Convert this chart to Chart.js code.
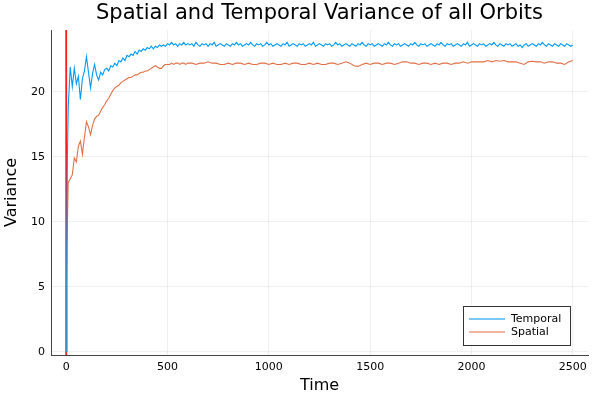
<!DOCTYPE html>
<html>
<head>
<meta charset="utf-8">
<script src="https://cdn.jsdelivr.net/npm/chart.js@4"></script>
<style>
html,body{margin:0;padding:0;background:#fff;}
#wrap{width:600px;height:400px;}
</style>
</head>
<body>
<div id="wrap"><canvas id="grafico"></canvas></div>
<script>

/* =============================
DADOS
============================= */

const temposTemporal=[
0,3,6,10,20,30,40,50,60,70,80,90,100,110,120,130,140,150,160,170,180,190,200,
210,220,230,240,250,260,270,280,290,300,310,320,330,340,350,360,370,380,390,400,
410,420,430,440,450,460,470,480,490,500,510,520,530,540,550,560,570,580,590,600,
610,620,630,640,650,660,670,680,690,700,710,720,730,740,750,760,770,780,790,800,
810,820,830,840,850,860,870,880,890,900,910,920,930,940,950,960,970,980,990,1000,
1010,1020,1030,1040,1050,1060,1070,1080,1090,1100,1110,1120,1130,1140,1150,1160,1170,1180,1190,1200,
1210,1220,1230,1240,1250,1260,1270,1280,1290,1300,1310,1320,1330,1340,1350,1360,1370,1380,1390,1400,
1410,1420,1430,1440,1450,1460,1470,1480,1490,1500,1510,1520,1530,1540,1550,1560,1570,1580,1590,1600,
1610,1620,1630,1640,1650,1660,1670,1680,1690,1700,1710,1720,1730,1740,1750,1760,1770,1780,1790,1800,
1810,1820,1830,1840,1850,1860,1870,1880,1890,1900,1910,1920,1930,1940,1950,1960,1970,1980,1990,2000,
2010,2020,2030,2040,2050,2060,2070,2080,2090,2100,2110,2120,2130,2140,2150,2160,2170,2180,2190,2200,
2210,2220,2230,2240,2250,2260,2270,2280,2290,2300,2310,2320,2330,2340,2350,2360,2370,2380,2390,2400,
2410,2420,2430,2440,2450,2460,2470,2480,2490,2500
];

const temporal=[
0,8,15,18.8,21.9,20.4,21.8,20.6,21.2,19.4,21.0,21.6,22.7,21.5,20.3,21.4,22.1,21.3,20.9,21.5,21.3,21.7,21.8,
21.6,22.0,21.9,22.2,22.0,22.4,22.3,22.6,22.4,22.8,22.7,22.9,22.8,23.1,22.9,23.2,23.1,23.3,23.2,23.4,
23.3,23.5,23.3,23.5,23.4,23.6,23.5,23.6,23.5,23.7,23.6,23.8,23.6,23.7,23.5,23.7,23.6,23.8,23.6,23.7,
23.6,23.7,23.5,23.8,23.6,23.5,23.7,23.6,23.7,23.5,
23.7,23.6,23.8,23.5,23.6,23.7,23.6,23.5,23.7,23.6,
23.5,23.7,23.6,23.8,23.6,23.7,23.5,23.6,23.7,23.6,
23.8,23.6,23.5,23.7,23.6,23.7,23.5,23.6,23.8,23.6,
23.7,23.5,23.6,23.7,23.6,23.5,23.7,23.6,23.8,23.5,
23.6,23.7,23.6,23.5,23.7,23.6,23.7,23.5,23.6,23.7,
23.6,23.8,23.5,23.6,23.7,23.6,23.5,23.7,23.6,23.7,
23.5,23.6,23.8,23.6,23.7,23.5,23.6,23.7,23.6,23.5,
23.7,23.6,23.5,23.7,23.6,23.8,23.6,23.5,23.7,23.6,
23.7,23.5,23.6,23.7,23.6,23.5,23.7,23.6,23.8,23.6,
23.5,23.7,23.6,23.7,23.5,23.6,23.7,23.6,23.5,23.7,
23.6,23.8,23.6,23.5,23.7,23.6,23.7,23.5,23.6,23.7,
23.6,23.5,23.7,23.6,23.8,23.6,23.5,23.7,23.6,23.7,
23.5,23.6,23.7,23.6,23.5,23.7,23.6,23.8,23.5,23.6,
23.7,23.6,23.5,23.7,23.6,23.7,23.5,23.6,23.7,23.6,
23.8,23.6,23.5,23.7,23.6,23.5,23.7,23.6,23.7,23.5,
23.6,23.7,23.5,23.6,23.4,23.6,23.7,23.5,23.6,23.7,
23.6,23.5,23.7,23.6,23.8,23.6,23.5,23.7,23.6,23.5,
23.7,23.6,23.5,23.7,23.6,23.5,23.7,23.6,23.5,23.6
];

const temposEspacial=[
0,3,6,10,20,30,40,50,60,70,80,90,100,110,120,130,140,150,160,170,180,190,200,
210,220,230,240,250,260,270,280,290,300,310,320,330,340,350,360,370,380,390,400,
410,420,430,440,450,460,470,480,490,500,510,520,530,540,550,560,570,580,590,600,
620,640,660,680,700,720,740,760,780,800,820,840,860,880,900,920,940,960,980,1000,
1020,1040,1060,1080,1100,1120,1140,1160,1180,1200,1220,1240,1260,1280,1300,1320,1340,1360,1380,1400,
1420,1440,1460,1480,1500,1520,1540,1560,1580,1600,1620,1640,1660,1680,1700,1720,1740,1760,1780,1800,
1820,1840,1860,1880,1900,1920,1940,1960,1980,2000,2020,2040,2060,2080,2100,2120,2140,2160,2180,2200,
2220,2240,2260,2280,2300,2320,2340,2360,2380,2400,2420,2440,2460,2480,2500
];

const espacial=[
0,5.5,10,13.0,13.3,13.6,14.9,14.6,15.8,16.2,15.2,16.5,17.7,17.3,16.7,17.4,17.9,18.1,18.2,18.5,18.8,19.0,19.3,
19.5,19.8,20.1,20.3,20.4,20.5,20.7,20.8,20.9,21.0,21.1,21.1,21.2,21.3,21.3,21.4,21.5,21.5,21.6,21.6,
21.7,21.8,21.9,22.0,21.9,21.8,21.8,22.0,22.1,22.1,22.1,22.2,22.1,22.2,22.2,22.1,22.2,22.2,22.1,22.2,
22.2,22.1,22.2,22.2,22.3,22.2,22.2,22.1,22.1,22.2,22.1,22.2,22.2,22.1,22.2,22.1,22.1,22.2,22.2,22.1,
22.2,22.1,22.1,22.2,22.1,22.2,22.2,22.1,22.1,22.2,22.1,22.2,22.1,22.1,22.2,22.2,22.1,22.2,22.3,22.2,
22.0,21.95,22.1,22.2,22.1,22.2,22.2,22.1,22.2,22.2,22.1,22.2,22.3,22.3,22.2,22.2,22.1,22.2,22.2,22.1,
22.2,22.1,22.2,22.2,22.1,22.2,22.2,22.3,22.2,22.3,22.3,22.3,22.3,22.4,22.3,22.4,22.35,22.4,22.3,22.3,
22.3,22.2,22.1,22.3,22.35,22.3,22.3,22.2,22.3,22.3,22.2,22.2,22.1,22.3,22.4
];

const marcaVertical=0;
const ticksX=[0,500,1000,1500,2000,2500];
const ticksY=[0,5,10,15,20];

const titulo="Spatial and Temporal Variance of all Orbits";
const tituloX="Time";
const tituloY="Variance";

/* =============================
TITULO E LEGENDA
============================= */

const tituloArea={
id:"tituloArea",
afterDraw(chart){
const ctx=chart.ctx;
const area=chart.chartArea;
ctx.save();
ctx.fillStyle="#000";
ctx.font="21px 'DejaVu Sans'";
ctx.textAlign="center";
ctx.textBaseline="alphabetic";
ctx.fillText(titulo,(area.left+area.right)/2,19);
ctx.restore();
}
};

const legendaInterna={
id:"legendaInterna",
afterDraw(chart){
const ctx=chart.ctx;
const itens=chart.data.datasets.filter(d=>!d.semLegenda);
const x0=463,y0=306,w=107,h=39;
ctx.save();
ctx.fillStyle="#fff";
ctx.fillRect(x0,y0,w,h);
ctx.strokeStyle="#333";
ctx.lineWidth=1;
ctx.strokeRect(x0+0.5,y0+0.5,w,h);
ctx.font="11px 'DejaVu Sans'";
ctx.textBaseline="middle";
itens.forEach((d,i)=>{
const y=y0+13+i*13;
ctx.strokeStyle=d.borderColor;
ctx.globalAlpha=0.7;
ctx.lineWidth=1.5;
ctx.beginPath();
ctx.moveTo(x0+6,y);
ctx.lineTo(x0+42,y);
ctx.stroke();
ctx.globalAlpha=1;
ctx.fillStyle="#000";
ctx.fillText(d.label,x0+48,y);
});
ctx.restore();
}
};

/* =============================
GRAFICO
============================= */

const pontos=(tempos,vals)=>vals.map((v,i)=>({x:tempos[i],y:v}));

new Chart(document.getElementById("grafico"),{
type:"scatter",
data:{
datasets:[
{label:"Temporal",data:pontos(temposTemporal,temporal),showLine:true,borderColor:"#009afa",borderWidth:1.1,pointRadius:0,tension:0},
{label:"Spatial",data:pontos(temposEspacial,espacial),showLine:true,borderColor:"#e26f46",borderWidth:1.1,pointRadius:0,tension:0},
{label:"vline",semLegenda:true,data:[{x:marcaVertical,y:-5},{x:marcaVertical,y:30}],showLine:true,borderColor:"#ff1a1a",borderWidth:1.8,pointRadius:0}
]
},
options:{
responsive:true,
maintainAspectRatio:false,
animation:false,
layout:{padding:{left:0,right:12,top:30,bottom:0}},
plugins:{
legend:{display:false},
tooltip:{enabled:false},
title:{display:false}
},
scales:{
x:{
type:"linear",
min:-75,max:2575,
afterBuildTicks:(s)=>{s.ticks=ticksX.map(v=>({value:v}));},
afterFit:(s)=>{s.height=45;},
border:{color:"#444",width:1},
grid:{color:"rgba(0,0,0,0.06)",drawTicks:false},
ticks:{color:"#000",font:{family:"DejaVu Sans",size:11},padding:6,maxRotation:0,callback:(v)=>String(v)},
title:{display:true,text:tituloX,color:"#000",font:{family:"DejaVu Sans",size:16},padding:{top:5,bottom:5}}
},
y:{
min:-0.25,max:24.75,
afterBuildTicks:(s)=>{s.ticks=ticksY.map(v=>({value:v}));},
afterFit:(s)=>{s.width=51;},
border:{color:"#444",width:1},
grid:{color:"rgba(0,0,0,0.06)",drawTicks:false},
ticks:{color:"#000",font:{family:"DejaVu Sans",size:11},padding:6,callback:(v)=>String(v)},
title:{display:true,text:tituloY,color:"#000",font:{family:"DejaVu Sans",size:16},padding:{top:2.5,bottom:2.5}}
}
}
},
plugins:[tituloArea,legendaInterna]
});

</script>
</body>
</html>
